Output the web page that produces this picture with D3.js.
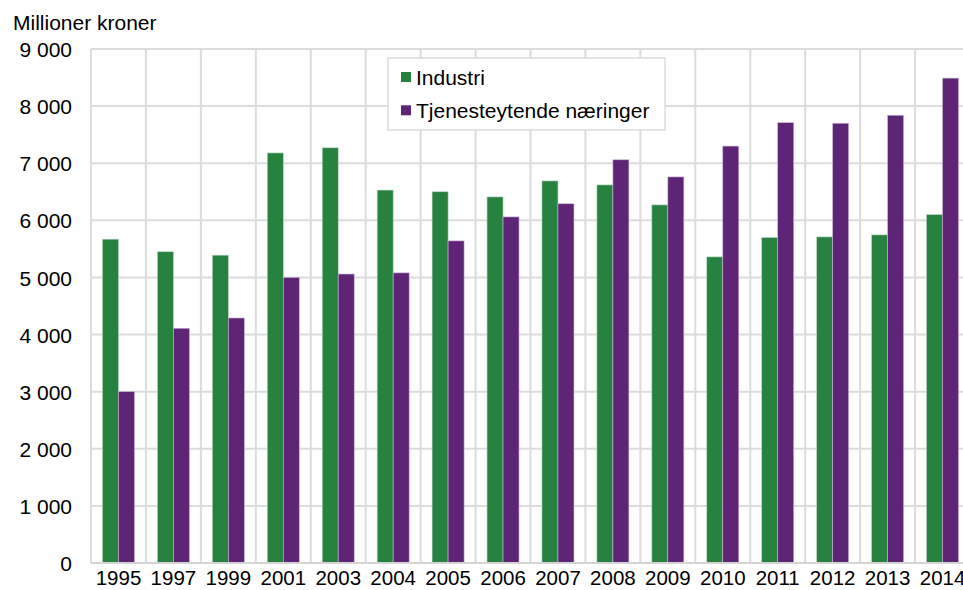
<html>
<head>
<meta charset="UTF-8" />
<script src="https://cdn.jsdelivr.net/npm/d3@7/dist/d3.min.js"></script>
<style>
  body { margin: 0; background: #fff; }
  text { font-family: "Liberation Sans", Arial, sans-serif; fill: #000; }
</style>
</head>
<body>
<div id="chart"></div>
<script>
// data
const years = ["1995","1997","1999","2001","2003","2004","2005","2006","2007","2008","2009","2010","2011","2012","2013","2014"];
const industri = [5670, 5450, 5390, 7180, 7270, 6530, 6500, 6410, 6690, 6620, 6270, 5360, 5700, 5710, 5745, 6100];
const tjenester = [3000, 4110, 4290, 5000, 5060, 5080, 5640, 6060, 6290, 7060, 6760, 7300, 7710, 7700, 7840, 8490];
const seriesNames = ["Industri", "Tjenesteytende næringer"];
const colors = ["#278240", "#5e2576"];
const yTicks = [0, 1000, 2000, 3000, 4000, 5000, 6000, 7000, 8000, 9000];

const width = 963, height = 590;
const margin = {left: 91, top: 49, bottom: 27};
const plotW = 879; // runs past the right edge, as in the original
const plotH = height - margin.top - margin.bottom;

const nb = d3.formatLocale({decimal: ",", thousands: " ", grouping: [3], currency: ["", " kr"]});
const fmt = nb.format(",d");

const svg = d3.select("#chart").append("svg")
    .attr("width", width)
    .attr("height", height);

const x = d3.scaleBand().domain(years).range([margin.left, margin.left + plotW]);
const y = d3.scaleLinear().domain([0, 9000]).range([margin.top + plotH, margin.top]);

// grid
const grid = svg.append("g");
grid.selectAll("line.h").data(yTicks).enter().append("line")
    .attr("x1", margin.left).attr("x2", margin.left + plotW)
    .attr("y1", d => y(d)).attr("y2", d => y(d))
    .style("stroke", "#dcdcdc").style("stroke-width", "2px");
grid.selectAll("line.v").data(years).enter().append("line")
    .attr("x1", d => x(d)).attr("x2", d => x(d))
    .attr("y1", margin.top).attr("y2", margin.top + plotH)
    .style("stroke", "#dcdcdc").style("stroke-width", "2px");

// bars
const barW = 16;
const groups = svg.append("g").selectAll("g")
    .data(years).enter().append("g")
    .attr("transform", d => "translate(" + (x(d) + x.bandwidth() / 2 - barW) + ",0)");

groups.append("rect")
    .attr("x", 0).attr("width", barW)
    .attr("y", (d, i) => y(industri[i]))
    .attr("height", (d, i) => y(0) - y(industri[i]))
    .style("fill", colors[0]).style("stroke", "#b9d3c0").style("stroke-width", "0.6px");
groups.append("rect")
    .attr("x", barW).attr("width", barW)
    .attr("y", (d, i) => y(tjenester[i]))
    .attr("height", (d, i) => y(0) - y(tjenester[i]))
    .style("fill", colors[1]).style("stroke", "#c8b3d3").style("stroke-width", "0.6px");

// baseline
svg.append("line")
    .attr("x1", margin.left).attr("x2", margin.left + plotW)
    .attr("y1", y(0)).attr("y2", y(0))
    .style("stroke", "#d4d4d4").style("stroke-width", "2px");

// y axis
const yAxis = svg.append("g")
    .attr("transform", "translate(" + (margin.left - 19) + ",0)")
    .call(d3.axisLeft(y).tickValues(yTicks).tickFormat(fmt).tickSize(0).tickPadding(0));
yAxis.select(".domain").remove();
yAxis.selectAll("text").style("font-size", "21px").attr("dy", "0.36em");

// x axis
const xAxis = svg.append("g")
    .attr("transform", "translate(0," + y(0) + ")")
    .call(d3.axisBottom(x).tickSize(0).tickPadding(0));
xAxis.select(".domain").remove();
xAxis.selectAll("text").style("font-size", "20.5px").attr("y", 22).attr("dy", 0);

// unit label
svg.append("text")
    .attr("x", 13).attr("y", 30)
    .style("font-size", "21px")
    .text("Millioner kroner");

// legend
const legend = svg.append("g").attr("transform", "translate(388,58)");
legend.append("rect")
    .attr("width", 277).attr("height", 72)
    .style("fill", "#fff").style("stroke", "#dcdcdc").style("stroke-width", "1.5px");
seriesNames.forEach(function(name, i) {
    const row = legend.append("g").attr("transform", "translate(13," + (19 + i * 33.3) + ")");
    row.append("rect")
        .attr("x", 0).attr("y", -5).attr("width", 10).attr("height", 10)
        .style("fill", colors[i]);
    row.append("text")
        .attr("x", 15).attr("dy", "0.36em")
        .style("font-size", "21px")
        .text(name);
});
</script>
</body>
</html>
